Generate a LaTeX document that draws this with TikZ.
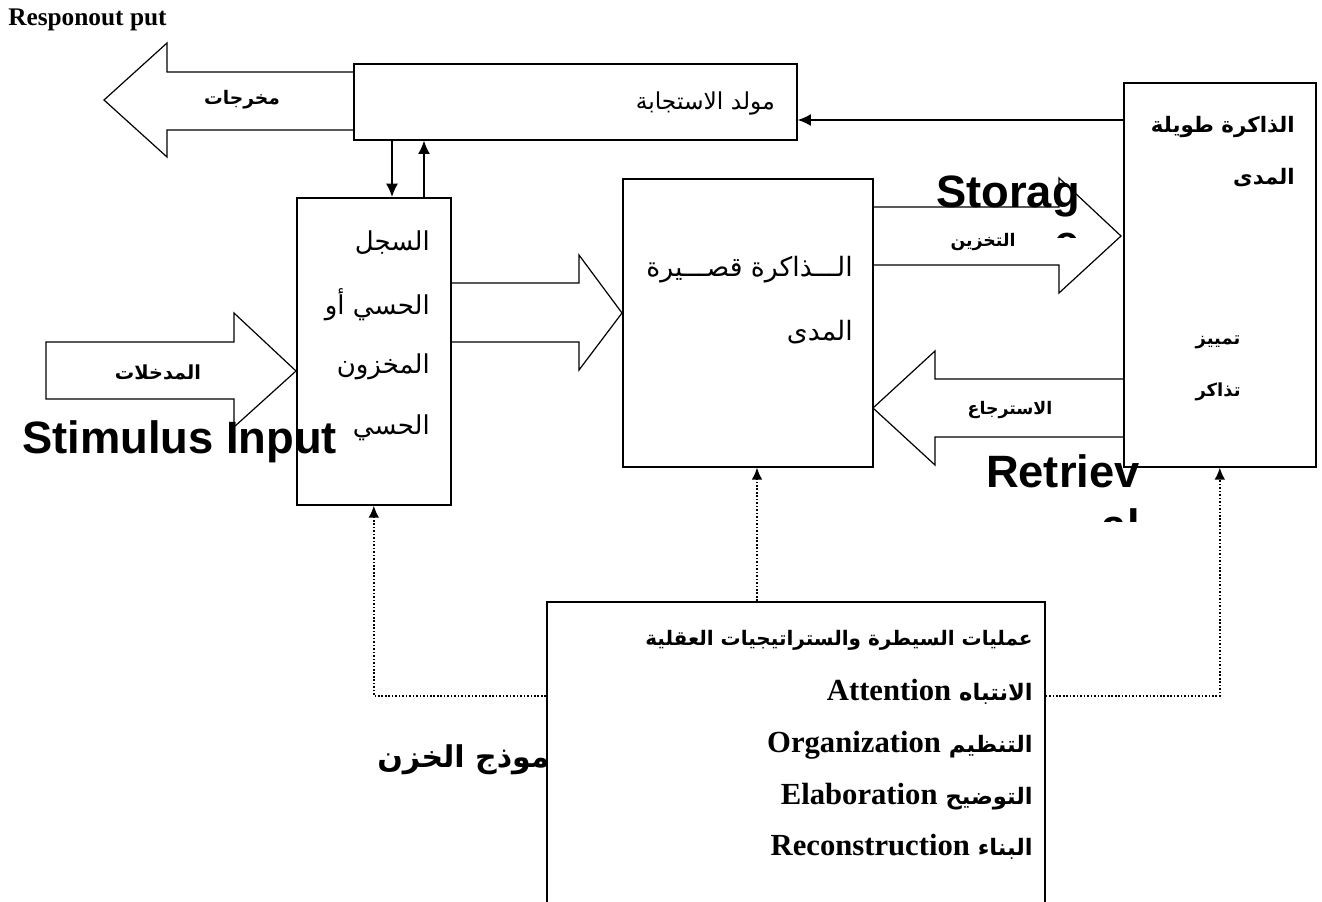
\documentclass[tikz,border=0pt]{standalone}
\usepackage{fontspec}
\setmainfont{Liberation Serif}
\newfontfamily\arabicfont[Script=Arabic]{DejaVu Sans}
\newfontfamily\bigsansfont{Liberation Sans}
\TeXXeTstate=1
\usetikzlibrary{arrows.meta}
\newcommand{\arf}[1]{\arabicfont\fontsize{#1}{#1}\selectfont}
\newcommand{\arbf}[1]{\arabicfont\bfseries\fontsize{#1}{#1}\selectfont}
\newcommand{\latinb}{\rmfamily\bfseries\fontsize{23pt}{23pt}\selectfont}
\newcommand{\bigsans}{\bigsansfont\bfseries\fontsize{34pt}{34pt}\selectfont}
\tikzset{
  box/.style={draw, line width=1.2pt, fill=white, inner sep=0pt, anchor=north west},
  blockarrow/.style={draw, line width=0.9pt, line join=miter},
  arr/.style={-{Latex[length=10pt,width=9pt]}, line width=1.2pt},
  dotarr/.style={line width=1.3pt, dash pattern=on 1.2pt off 1.4pt, -{Latex[length=9pt,width=8pt]}},
  lbl/.style={inner sep=0pt},
}
\begin{document}
\begin{tikzpicture}[x=0.75pt,y=-0.75pt]
    \clip (0,0) rectangle (1322,901);
    % boxes
    \node[box, minimum width=332.25pt, minimum height=57pt] (gen) at (353,63) {};
    \node[box, minimum width=115.5pt, minimum height=230.25pt] (sens) at (296,197) {};
    \node[box, minimum width=187.5pt, minimum height=216pt] (stm) at (622,178) {};
    \node[box, minimum width=144pt, minimum height=288pt] (ltm) at (1123,82) {};
    % block arrows
    \draw[blockarrow] (353,72) -- (167,72) -- (167,43) -- (104,100) -- (167,157) -- (167,130) -- (353,130);
    \draw[blockarrow] (46,342) -- (234,342) -- (234,313) -- (296,371) -- (234,427) -- (234,399) -- (46,399) -- cycle;
    \draw[blockarrow] (450,283) -- (579,283) -- (579,255) -- (622,313) -- (579,370) -- (579,342) -- (450,342);
    \draw[blockarrow] (873,207) -- (1059,207) -- (1059,178) -- (1121,236) -- (1059,293) -- (1059,265) -- (873,265);
    \draw[blockarrow] (1123,379) -- (935,379) -- (935,351) -- (873,408) -- (935,465) -- (935,437) -- (1123,437);
    % labels
    \node[lbl, anchor=base west] (title) at (8,25) {\bfseries\fontsize{19pt}{19pt}\selectfont Responout put};
    \node[lbl, anchor=east] (gentext) at (775,103) {\arf{17.5pt}\beginR مولد الاستجابة\endR};
    \node[lbl] (outlbl) at (242,100) {\arbf{14pt}\beginR مخرجات\endR};
    \node[lbl] (inlbl) at (158,372) {\arbf{14.5pt}\beginR المدخلات\endR};
    \node[lbl] (storelbl) at (983,242) {\arbf{13pt}\beginR التخزين\endR};
    \node[lbl] (retrlbl) at (1010,410) {\arbf{13pt}\beginR الاسترجاع\endR};
    \node[lbl, anchor=east] at (430,243) {\arf{19.5pt}\beginR السجل\endR};
    \node[lbl, anchor=east] at (430,305) {\arf{19.5pt}\beginR الحسي أو\endR};
    \node[lbl, anchor=east] at (430,367) {\arf{19.5pt}\beginR المخزون\endR};
    \node[lbl, anchor=east] at (430,428) {\arf{19.5pt}\beginR الحسي\endR};
    \node[lbl, anchor=east] at (853,270) {\arf{20pt}\beginR الـــذاكرة قصـــيرة\endR};
    \node[lbl, anchor=east] at (853,332) {\arf{20pt}\beginR المدى\endR};
    \node[lbl, anchor=east] at (1295,127) {\arbf{16pt}\beginR الذاكرة طويلة\endR};
    \node[lbl, anchor=east] at (1295,178) {\arbf{16pt}\beginR المدى\endR};
    \node[lbl] at (1218,342) {\arbf{13.5pt}\beginR تمييز\endR};
    \node[lbl] at (1218,392) {\arbf{13.5pt}\beginR تذاكر\endR};
    % english captions
    \node[lbl, anchor=base west] (stim) at (22,453) {\bigsans Stimulus Input};
    \node[lbl, anchor=base east] (stor) at (1080,207) {\bigsans Storag};
    \node[lbl, anchor=base east] (retr) at (1140,487) {\bigsans Retriev};
    \begin{scope}
        \clip (1000,200) rectangle (1100,237);
        \node[lbl, anchor=base east] at (1080,257) {\bigsans e};
    \end{scope}
    \begin{scope}
        \clip (1050,490) rectangle (1160,521);
        \node[lbl, anchor=base east] at (1140,541) {\bigsans al};
    \end{scope}
    \node[lbl, anchor=west] (model) at (377,760) {\arbf{22.5pt}\beginR نموذج الخزن\endR};
    % control box
    \node[box, minimum width=373.5pt, minimum height=240pt] (ctrl) at (546,601) {};
    \node[lbl, anchor=east] at (1033,640) {\arbf{15pt}\beginR عمليات السيطرة والستراتيجيات العقلية\endR};
    \node[lbl, anchor=east] at (1033,692) {\arbf{17pt}\beginR الانتباه {\latinb\beginL Attention\endL}\endR};
    \node[lbl, anchor=east] at (1033,745) {\arbf{17pt}\beginR التنظيم {\latinb\beginL\ Organization\endL}\endR};
    \node[lbl, anchor=east] at (1033,797) {\arbf{17pt}\beginR التوضيح {\latinb\beginL Elaboration\endL}\endR};
    \node[lbl, anchor=east] at (1033,847) {\arbf{17pt}\beginR البناء {\latinb\beginL Reconstruction\endL}\endR};
    % connectors
    \coordinate (topline) at (0,120);
    \coordinate (dn) at (392,0);
    \coordinate (up) at (424,0);
    \coordinate (hline) at (0,696);
    \coordinate (mid) at (757,0);
    \draw[arr] (ltm.west |- topline) -- (gen.east |- topline);
    \draw[arr] (gen.south -| dn) -- (sens.north -| dn);
    \draw[arr] (sens.north -| up) -- (gen.south -| up);
    \draw[dotarr] (ctrl.west |- hline) -| (sens.south);
    \draw[dotarr] (ctrl.north -| mid) -- (stm.south -| mid);
    \draw[dotarr] (ctrl.east |- hline) -| (ltm.south);
\end{tikzpicture}
\end{document}
